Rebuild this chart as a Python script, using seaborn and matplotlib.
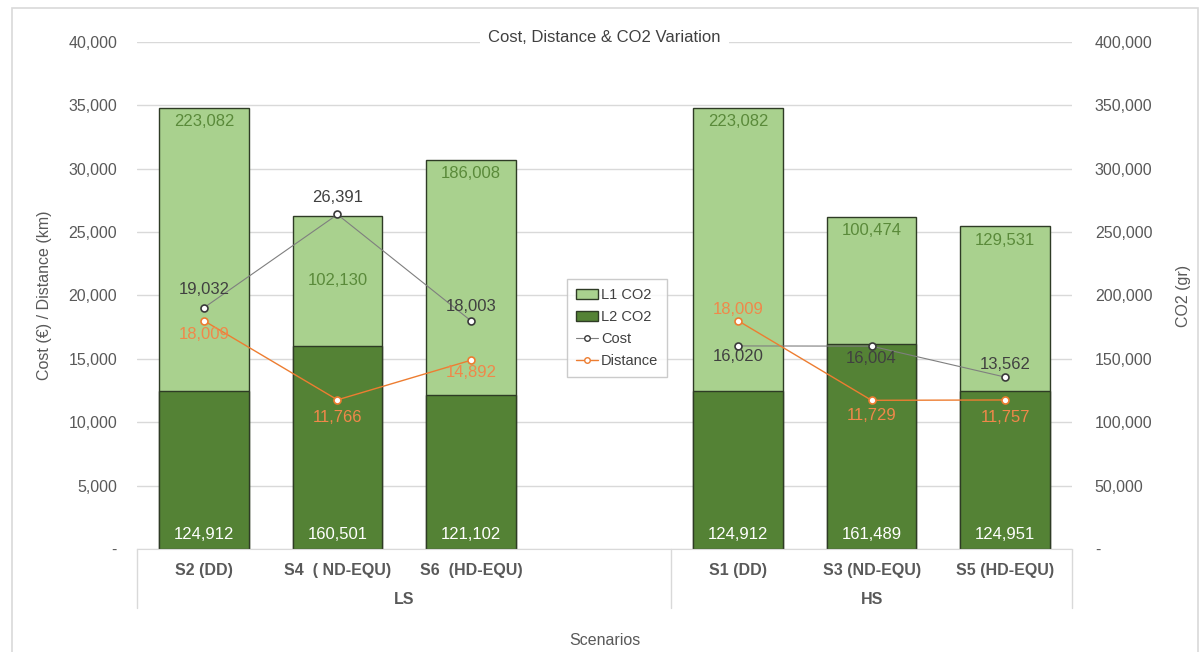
import matplotlib
matplotlib.use("Agg")
import pandas as pd
import matplotlib.pyplot as plt
import seaborn as sns
from matplotlib.ticker import FuncFormatter, MultipleLocator
from matplotlib.patches import Patch, Rectangle
from matplotlib.lines import Line2D

# Dados
scenarios = ["S2 (DD)", "S4  ( ND-EQU)", "S6  (HD-EQU)", "S1 (DD)", "S3 (ND-EQU)", "S5 (HD-EQU)"]
groups = ["LS", "LS", "LS", "HS", "HS", "HS"]
l2_co2 = [124912, 160501, 121102, 124912, 161489, 124951]
l1_co2 = [223082, 102130, 186008, 223082, 100474, 129531]
cost = [19032, 26391, 18003, 16020, 16004, 13562]
distance = [18009, 11766, 14892, 18009, 11729, 11757]

# o grupo LS tem uma quarta posição vazia
order = scenarios[:3] + [" "] + scenarios[3:]

LIGHT = "#a9d18e"
DARK = "#548235"
EDGE = "#2e3b25"
ORANGE = "#ed7d31"
GREY_LINE = "#7f7f7f"
TXT = "#595959"

df = pd.DataFrame({"scenario": scenarios, "group": groups,
                   "l1": l1_co2, "l2": l2_co2, "cost": cost, "distance": distance})
df["total"] = df["l1"] + df["l2"]
df["pos"] = [order.index(s) for s in scenarios]

sns.set_style("white")
plt.rcParams["font.family"] = ["Liberation Sans Narrow", "Liberation Sans", "DejaVu Sans"]

fig, ax = plt.subplots(figsize=(12.03, 6.52), dpi=100)
fig.subplots_adjust(left=0.114, right=0.891, bottom=0.158, top=0.9356)
ax2 = ax.twinx()

# barras empilhadas (eixo da direita)
sns.barplot(data=df, x="scenario", y="total", order=order, color=LIGHT, saturation=1,
            width=0.67, edgecolor=EDGE, linewidth=1, ax=ax2)
sns.barplot(data=df, x="scenario", y="l2", order=order, color=DARK, saturation=1,
            width=0.67, edgecolor=EDGE, linewidth=1, ax=ax2)

# linhas de custo e distância (eixo da esquerda), quebradas por grupo
sns.lineplot(data=df, x="pos", y="cost", units="group", estimator=None, color=GREY_LINE,
             linewidth=0.8, marker="o", markersize=5, markerfacecolor="white",
             markeredgecolor="#3a3a3a", markeredgewidth=1.2, legend=False, ax=ax)
sns.lineplot(data=df, x="pos", y="distance", units="group", estimator=None, color=ORANGE,
             linewidth=1.0, marker="o", markersize=5, markerfacecolor="white",
             markeredgecolor=ORANGE, markeredgewidth=1.2, legend=False, ax=ax)

ax.set_zorder(ax2.get_zorder() + 1)
ax.patch.set_visible(False)

ax.set_xlim(-0.5, 6.5)
ax.set_ylim(0, 40000)
ax2.set_ylim(0, 400000)
ax.yaxis.set_major_locator(MultipleLocator(5000))
ax2.yaxis.set_major_locator(MultipleLocator(50000))
fmt = FuncFormatter(lambda v, p: "-" if v == 0 else f"{int(v):,}")
ax.yaxis.set_major_formatter(fmt)
ax2.yaxis.set_major_formatter(fmt)

ax2.yaxis.grid(True, color="#d9d9d9", linewidth=1)
ax2.set_axisbelow(True)
ax.grid(False)
for a in (ax, ax2):
    a.tick_params(axis="y", length=0, labelsize=11.5, labelcolor=TXT)
    a.set_xticks([])
    a.set_xlabel("")
    for s in a.spines.values():
        s.set_visible(False)
ax.tick_params(axis="y", pad=14.5)
ax2.tick_params(axis="y", pad=16.5)
ax.spines["bottom"].set_visible(True)
ax.spines["bottom"].set_color("#d9d9d9")

ax.set_ylabel("Cost (€) / Distance (km)", fontsize=11.5, color=TXT)
ax2.set_ylabel("CO2 (gr)", fontsize=11.5, color=TXT)
ax.yaxis.set_label_coords(-0.091, 0.5)
ax2.yaxis.set_label_coords(1.111, 0.5)

# rótulos de dados
l1_mid = [False, True, False, False, False, False]
for i, r in df.iterrows():
    if l1_mid[i]:
        ax2.annotate(f"{r.l1:,}", (r.pos, r.l2 + r.l1 / 2), ha="center", va="center",
                     fontsize=12, color="#5a8a3a")
    else:
        ax2.annotate(f"{r.l1:,}", (r.pos, r.total), xytext=(0, -14), textcoords="offset pixels",
                     ha="center", va="center", fontsize=12, color="#5a8a3a")
    ax2.annotate(f"{r.l2:,}", (r.pos, 0), xytext=(0, 14), textcoords="offset pixels",
                 ha="center", va="center", fontsize=12, color="white")

cost_dy = [18, 17, 14, -11, -12, 13]
dist_dy = [-14, -18, -12, 11, -15, -18]
for i, r in df.iterrows():
    ax.annotate(f"{r.cost:,}", (r.pos, r.cost), xytext=(0, cost_dy[i]), textcoords="offset pixels",
                ha="center", va="center", fontsize=12, color="#404040")
    ax.annotate(f"{r.distance:,}", (r.pos, r.distance), xytext=(0, dist_dy[i]),
                textcoords="offset pixels", ha="center", va="center", fontsize=12,
                color="#f0884a")

# eixo de categorias em forma de tabela
tr = ax.get_xaxis_transform()
for xv in (-0.5, 3.5, 6.5):
    ax.plot([xv, xv], [0, -0.117], transform=tr, color="#d9d9d9", linewidth=1, clip_on=False)
for s, p in zip(df["scenario"], df["pos"]):
    ax.text(p, -0.042, s, transform=tr, ha="center", va="center", fontsize=11.5,
            fontweight="bold", color=TXT)
ax.text(1.5, -0.1, "LS", transform=tr, ha="center", va="center", fontsize=11.5,
        fontweight="bold", color=TXT)
ax.text(5.0, -0.1, "HS", transform=tr, ha="center", va="center", fontsize=11.5,
        fontweight="bold", color=TXT)
ax.text(0.5, -0.18, "Scenarios", transform=ax.transAxes, ha="center", va="center",
        fontsize=11.5, color=TXT)

ax.text(0.5, 1.008, "Cost, Distance & CO2 Variation", transform=ax.transAxes, ha="center",
        va="center", fontsize=12, color="#404040",
        bbox=dict(facecolor="white", edgecolor="none", pad=6))

handles = [Patch(facecolor=LIGHT, edgecolor=EDGE, label="L1 CO2"),
           Patch(facecolor=DARK, edgecolor=EDGE, label="L2 CO2"),
           Line2D([], [], color=GREY_LINE, linewidth=0.8, marker="o", markersize=4,
                  markerfacecolor="white", markeredgecolor="#3a3a3a", label="Cost"),
           Line2D([], [], color=ORANGE, linewidth=1.0, marker="o", markersize=4,
                  markerfacecolor="white", markeredgecolor=ORANGE, label="Distance")]
leg = ax.legend(handles=handles, loc="center", bbox_to_anchor=(0.513, 0.497),
                bbox_transform=fig.transFigure, fancybox=False, frameon=True,
                fontsize=10.5, handlelength=1.5, handletextpad=0.2, borderpad=0.6,
                labelspacing=0.55, labelcolor="#404040")
leg.get_frame().set_edgecolor("#bfbfbf")
leg.get_frame().set_linewidth(1)

# moldura do gráfico
fig.patches.append(Rectangle((12 / 1203, -0.05), 1186 / 1203, 1.05 - 8 / 652,
                             transform=fig.transFigure, fill=False,
                             edgecolor="#d9d9d9", linewidth=1.2))

fig.savefig("out.png", dpi=100)
